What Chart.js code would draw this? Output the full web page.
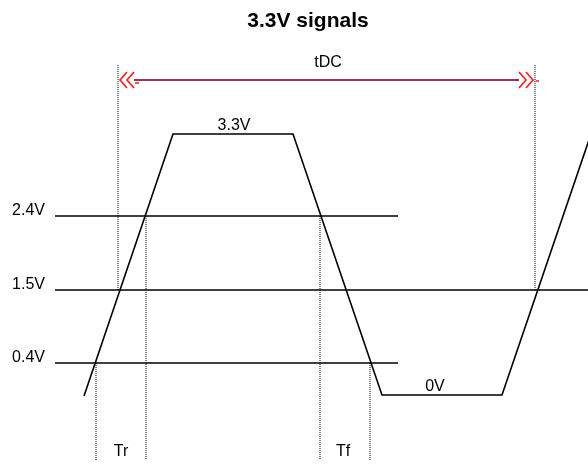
<!DOCTYPE html>
<html>
<head>
<meta charset="utf-8">
<title>3.3V signals</title>
<script src="https://cdn.jsdelivr.net/npm/chart.js@4.4.1/dist/chart.umd.min.js"></script>
<style>
  body { margin: 0; background: #fff; }
  #wrap { width: 588px; height: 466px; }
</style>
</head>
<body>
<div id="wrap"><canvas id="signalChart"></canvas></div>
<script>
// Diagram units: x = time position, y = drawn level height (the sketch is not to scale)
const levelLabels = ['0.4V', '1.5V', '2.4V'];
const levelValues = [103, 176, 250];
const levelEnds = [343, 533, 343];

// signal waveform corners
const waveTime = [29, 118, 238, 327, 447, 536];
const waveLevel = [70, 332, 332, 71, 71, 332];

// dotted timing markers
const markerTime = [41, 63, 91, 265, 315, 480];
const markerTop = [103, 401, 250, 250, 103, 401];
const markerBottom = [6, 176, 6, 6, 6, 176];

// tDC span arrow
const spanTime = [65, 478];
const spanLevel = 386;

// text notes
const noteTexts = ['tDC', '3.3V', '0V', 'Tr', 'Tf'];
const noteTime = [273, 179, 380, 66, 288];
const noteLevel = [403, 340, 79, 14, 14];

const FONT = "'Liberation Sans', Arial, sans-serif";

const datasets = [];
levelValues.forEach((v, i) => {
    datasets.push({
        data: [{ x: 0, y: v }, { x: levelEnds[i], y: v }],
        borderColor: '#000',
        borderWidth: 1.4
    });
});
markerTime.forEach((t, i) => {
    datasets.push({
        data: [{ x: t, y: markerTop[i] }, { x: t, y: markerBottom[i] }],
        borderColor: '#000',
        borderWidth: 1,
        borderDash: [1, 1]
    });
});
datasets.push({
    data: waveTime.map((t, i) => ({ x: t, y: waveLevel[i] })),
    borderColor: '#000',
    borderWidth: 1.6
});
datasets.push({
    data: [{ x: spanTime[0] + 14, y: spanLevel }, { x: spanTime[1] - 14, y: spanLevel }],
    borderColor: '#993366',
    borderWidth: 2
});

// draws the title, the arrow heads and the text notes
const notesPlugin = {
    id: 'notes',
    afterDatasetsDraw(chart) {
        const ctx = chart.ctx;
        const xs = chart.scales.x, ys = chart.scales.y;
        ctx.save();

        // double chevrons at both ends of the tDC span
        const py = ys.getPixelForValue(spanLevel);
        ctx.strokeStyle = '#ff1a1a';
        ctx.lineWidth = 1.6;
        [0, 1].forEach(side => {
            const tip = xs.getPixelForValue(spanTime[side]);
            const dir = side === 0 ? 1 : -1;
            [0, 7].forEach(off => {
                const x0 = tip + dir * off;
                ctx.beginPath();
                ctx.moveTo(x0 + dir * 7, py - 8);
                ctx.lineTo(x0, py);
                ctx.lineTo(x0 + dir * 7, py + 8);
                ctx.stroke();
            });
        });
        ctx.lineWidth = 1.5;
        ctx.beginPath();
        ctx.moveTo(xs.getPixelForValue(spanTime[0]) + 15, py + 3);
        ctx.lineTo(xs.getPixelForValue(spanTime[0]) + 19, py + 3);
        ctx.moveTo(xs.getPixelForValue(spanTime[1]) + 3, py + 1);
        ctx.lineTo(xs.getPixelForValue(spanTime[1]) + 6, py + 1);
        ctx.stroke();

        ctx.fillStyle = '#000';
        ctx.textAlign = 'center';
        ctx.textBaseline = 'middle';
        ctx.font = '16px ' + FONT;
        noteTexts.forEach((txt, i) => {
            ctx.fillText(txt, xs.getPixelForValue(noteTime[i]), ys.getPixelForValue(noteLevel[i]));
        });

        ctx.font = 'bold 21px ' + FONT;
        ctx.fillText('3.3V signals', 308, 21);
        ctx.restore();
    }
};

const ctx = document.getElementById('signalChart').getContext('2d');
const signalChart = new Chart(ctx, {
    type: 'line',
    data: { datasets: datasets },
    options: {
        responsive: true,
        maintainAspectRatio: false,
        animation: false,
        layout: { padding: 0 },
        elements: { point: { radius: 0, hoverRadius: 0 }, line: { tension: 0 } },
        plugins: {
            legend: { display: false },
            tooltip: { enabled: false }
        },
        scales: {
            x: {
                type: 'linear',
                min: 0,
                max: 533,
                display: false
            },
            y: {
                type: 'linear',
                min: 0,
                max: 466,
                grid: { display: false, drawTicks: false },
                border: { display: false },
                afterBuildTicks: (scale) => {
                    scale.ticks = levelValues.map(v => ({ value: v }));
                },
                afterFit: (scale) => {
                    scale.width = 55;
                    scale.paddingTop = 0;
                    scale.paddingBottom = 0;
                },
                ticks: {
                    padding: 10,
                    labelOffset: -5,
                    color: '#000',
                    font: { size: 16, family: FONT },
                    callback: (value, index) => levelLabels[index]
                }
            }
        }
    },
    plugins: [notesPlugin]
});
</script>
</body>
</html>
